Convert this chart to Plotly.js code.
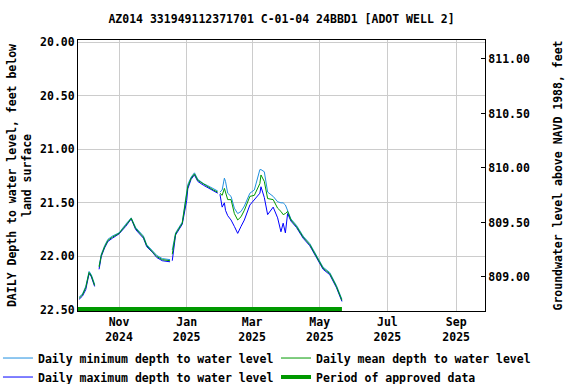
<!DOCTYPE html>
<html>
<head>
<meta charset="utf-8">
<script src="https://cdn.plot.ly/plotly-3.0.1.min.js"></script>
<style>html,body{margin:0;padding:0;background:#fff;}#chart{width:576px;height:384px;}</style>
</head>
<body>
<div id="chart"></div>
<script>
// ---- data ----
const dates = [
 '2024-09-26','2024-09-29','2024-10-02','2024-10-04','2024-10-05','2024-10-07','2024-10-10','2024-10-12',
 '2024-10-14','2024-10-16','2024-10-19','2024-10-22','2024-10-26','2024-11-01','2024-11-07','2024-11-12',
 '2024-11-16','2024-11-20','2024-11-23','2024-11-26','2024-12-01','2024-12-05','2024-12-10','2024-12-17',
 '2024-12-18','2024-12-19','2024-12-22','2024-12-28','2024-12-30','2025-01-01','2025-01-02','2025-01-05',
 '2025-01-08','2025-01-11','2025-01-16','2025-01-20','2025-01-25','2025-01-29','2025-01-30','2025-01-31',
 '2025-02-02','2025-02-04','2025-02-05','2025-02-07','2025-02-10','2025-02-13','2025-02-16','2025-02-19',
 '2025-02-22','2025-02-27','2025-03-03','2025-03-08','2025-03-09','2025-03-12','2025-03-15','2025-03-20',
 '2025-03-24','2025-03-27','2025-03-29','2025-03-31','2025-04-02','2025-04-05','2025-04-10','2025-04-16',
 '2025-04-22','2025-04-28','2025-05-04','2025-05-10','2025-05-16','2025-05-21'
];
const meanDepth = [
 22.39,22.36,22.29,22.19,22.15,22.18,22.27,null,
 22.10,21.99,21.91,21.85,21.82,21.785,21.71,21.645,
 21.74,21.79,21.82,21.90,21.955,22.00,22.03,22.04,
 null,21.98,21.79,21.69,21.57,21.45,21.35,21.27,
 21.23,21.29,21.325,21.35,21.38,21.40,null,21.41,
 21.43,21.365,21.40,21.47,21.47,21.60,21.66,21.63,
 21.57,21.44,21.43,21.32,21.24,21.30,21.46,21.47,
 21.55,21.58,21.61,21.60,21.58,21.66,21.72,21.82,
 21.89,22.00,22.11,22.16,22.28,22.41
];
const minDepth = [
 22.38,22.35,22.28,22.18,22.14,22.17,22.26,null,
 22.09,21.98,21.90,21.84,21.81,21.78,21.70,21.64,
 21.73,21.78,21.81,21.89,21.95,21.99,22.02,22.03,
 null,21.94,21.78,21.68,21.55,21.43,21.33,21.26,
 21.22,21.28,21.32,21.34,21.37,21.39,null,21.40,
 21.38,21.27,21.30,21.41,21.44,21.55,21.60,21.58,
 21.53,21.41,21.38,21.19,21.19,21.21,21.40,21.44,
 21.49,21.50,21.50,21.52,21.58,21.65,21.71,21.81,
 21.88,21.99,22.10,22.15,22.27,22.40
];
const maxDepth = [
 22.40,22.37,22.31,22.20,22.16,22.19,22.28,null,
 22.12,22.00,21.92,21.86,21.83,21.79,21.72,21.65,
 21.75,21.80,21.83,21.91,21.96,22.01,22.04,22.05,
 null,22.04,21.80,21.70,21.60,21.48,21.37,21.28,
 21.24,21.30,21.335,21.36,21.39,21.41,null,21.42,
 21.54,21.50,21.57,21.62,21.66,21.72,21.785,21.72,
 21.66,21.52,21.47,21.41,21.35,21.45,21.61,21.54,
 21.64,21.77,21.69,21.78,21.60,21.67,21.73,21.83,
 21.90,22.01,22.12,22.17,22.29,22.42
];
const approvedDates = ['2024-09-25','2025-05-21'];
const approvedLevel = 22.49;

const xTickVals = ['2024-11-01','2025-01-01','2025-03-01','2025-05-01','2025-07-01','2025-09-01'];
const xTickText = ['Nov<br>2024','Jan<br>2025','Mar<br>2025','May<br>2025','Jul<br>2025','Sep<br>2025'];
const yTickVals = [20.0,20.5,21.0,21.5,22.0,22.5];
const y2TickVals = [809.0,809.5,810.0,810.5,811.0];

const titleText = 'AZ014 331949112371701 C-01-04 24BBD1 [ADOT WELL 2]';
const yTitle = 'DAILY Depth to water level, feet below<br>land surface';
const y2Title = 'Groundwater level above NAVD 1988, feet';

// ---- plot ----
const F = {family:'"DejaVu Sans Mono", monospace', size:11.5, color:'#000', weight:'bold'};

const traces = [
 {x:dates, y:minDepth, type:'scatter', mode:'lines', name:'Daily minimum depth to water level',
  line:{color:'#1f8fe0', width:1}, connectgaps:false, legend:'legend', legendrank:1},
 {x:dates, y:maxDepth, type:'scatter', mode:'lines', name:'Daily maximum depth to water level',
  line:{color:'#0000ff', width:1}, connectgaps:false, legend:'legend', legendrank:2},
 {x:dates, y:meanDepth, type:'scatter', mode:'lines', name:'Daily mean depth to water level',
  line:{color:'#009900', width:1}, connectgaps:false, legend:'legend2', legendrank:1},
 {x:approvedDates, y:approvedDates.map(()=>approvedLevel), type:'scatter', mode:'lines',
  name:'Period of approved data', line:{color:'#009900', width:4}, legend:'legend2', legendrank:2},
 {x:[], y:[], yaxis:'y2', type:'scatter', showlegend:false, hoverinfo:'skip'}
];

const legendBase = {
 orientation:'v', xanchor:'left', yanchor:'top', y:-0.12,
 font:F, bgcolor:'rgba(0,0,0,0)', borderwidth:0, traceorder:'normal', tracegroupgap:0
};

const layout = {
 width:576, height:384,
 margin:{l:78, r:91, t:40, b:73, autoexpand:false},
 paper_bgcolor:'#fff', plot_bgcolor:'#fff',
 font:F,
 showlegend:true,
 title:{text:titleText, font:F, x:0.5, xref:'paper', xanchor:'center', y:1-19/384, yref:'container', yanchor:'middle'},
 xaxis:{
  type:'date', range:['2024-09-25','2025-09-27'], automargin:false,
  tickmode:'array', tickvals:xTickVals, ticktext:xTickText,
  showgrid:true, gridcolor:'#cccccc', gridwidth:1,
  showline:true, linecolor:'#000', linewidth:1, mirror:true,
  ticks:'', tickfont:F, zeroline:false
 },
 yaxis:{
  range:[22.509, 19.981], tickmode:'array', tickvals:yTickVals, tickformat:'.2f', automargin:false,
  showgrid:true, gridcolor:'#cccccc', gridwidth:1,
  showline:true, linecolor:'#000', linewidth:1,
  ticks:'', tickfont:F, zeroline:false,
  title:{text:yTitle, font:F, standoff:6}
 },
 yaxis2:{
  overlaying:'y', side:'right', automargin:false,
  range:[808.688, 811.174], tickmode:'array', tickvals:y2TickVals, tickformat:'.2f',
  showgrid:false, showline:true, linecolor:'#000', linewidth:1,
  ticks:'inside', ticklen:4, tickcolor:'#000', tickfont:F, zeroline:false,
  title:{text:y2Title, font:F, standoff:25}
 },
 legend: Object.assign({}, legendBase, {x:-0.1966}),
 legend2: Object.assign({}, legendBase, {x:0.4865})
};

Plotly.newPlot('chart', traces, layout, {displayModeBar:false, staticPlot:true});
</script>
</body>
</html>
